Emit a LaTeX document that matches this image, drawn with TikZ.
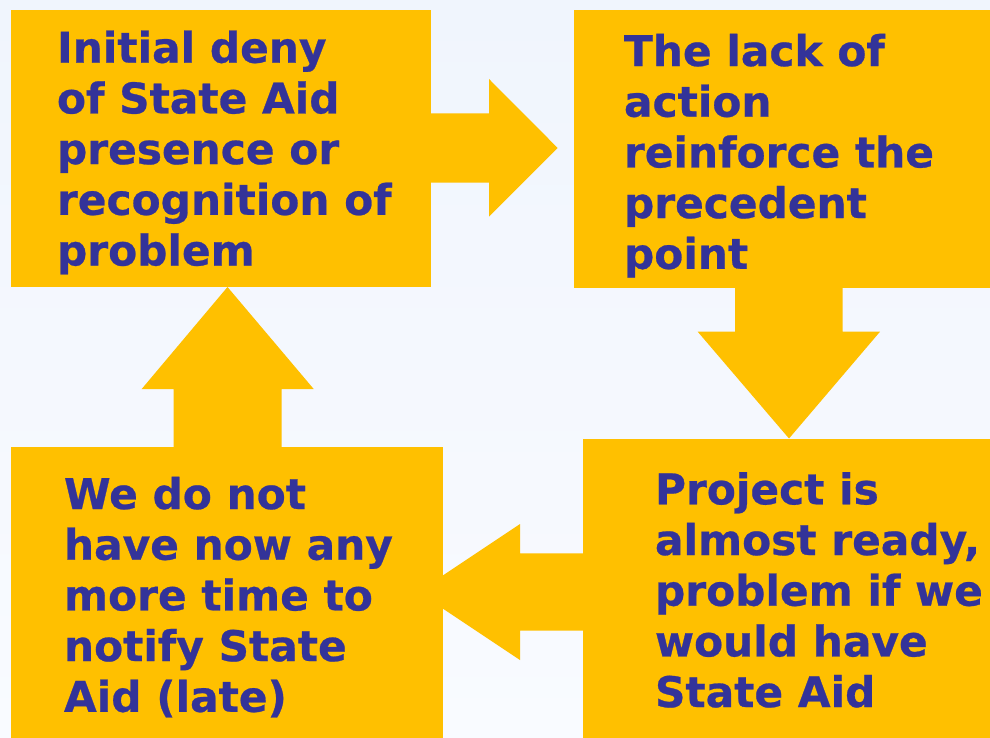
\documentclass[tikz,border=0pt]{standalone}
\usepackage{fontspec}
\setmainfont{DejaVu Sans}[BoldFeatures={FakeBold=0.6}]
\definecolor{boxorange}{HTML}{FFC000}
\definecolor{txtblue}{HTML}{333399}
\definecolor{bgtop}{RGB}{240,245,253}
\definecolor{bgbot}{RGB}{249,251,255}
\tikzset{
  boxshape/.style={rectangle, fill=boxorange, draw=none, inner sep=0pt, outer sep=0pt, anchor=north west},
  arrowshape/.style={fill=boxorange, draw=none},
  boxtext/.style={anchor=base west, align=left, inner sep=0pt, outer sep=0pt, text=txtblue,
    font=\fontsize{42.3}{50.7}\selectfont\bfseries}
}
\begin{document}
\begin{tikzpicture}[x=1pt, y=-1pt]
  \useasboundingbox (0,0) rectangle (990,738);
  \shade[top color=bgtop, bottom color=bgbot] (0,0) rectangle (990,738);
  % arrows
  \fill[arrowshape] (431,113.3) -- (489,113.3) -- (489,79) -- (557.7,148) -- (489,216.7) -- (489,182.7) -- (431,182.7) -- cycle;
  \fill[arrowshape] (735,288) -- (735,331.7) -- (697.7,331.7) -- (789,438.5) -- (880,331.7) -- (842.7,331.7) -- (842.7,288) -- cycle;
  \fill[arrowshape] (583,553.3) -- (520,553.3) -- (520,524) -- (418,592) -- (520,660) -- (520,630.7) -- (583,630.7) -- cycle;
  \fill[arrowshape] (173.7,447) -- (173.7,389) -- (141.7,389) -- (227.5,287) -- (313.7,389) -- (281.7,389) -- (281.7,447) -- cycle;
  % boxes
  \node[boxshape, minimum width=420pt, minimum height=277pt] (A) at (11,10) {};
  \node[boxshape, minimum width=416pt, minimum height=278pt] (B) at (574,10) {};
  \node[boxshape, minimum width=407pt, minimum height=299pt] (D) at (583,439) {};
  \node[boxshape, minimum width=432pt, minimum height=291pt] (C) at (11,447) {};
  % texts (base anchor = baseline of last line)
  \node[boxtext] (tA) at (57,265.5) {Initial deny\\of State Aid\\presence or\\recognition of\\problem};
  \node[boxtext] (tB) at (624,268.8) {The lack of\\action\\reinforce the\\precedent\\point};
  \node[boxtext] (tD) at (655,707.1) {Project is\\almost ready,\\problem if we\\would have\\State Aid};
  \node[boxtext] (tC) at (64,711.8) {We do not\\have now any\\more time to\\notify State\\Aid (late)};
\end{tikzpicture}
\end{document}
